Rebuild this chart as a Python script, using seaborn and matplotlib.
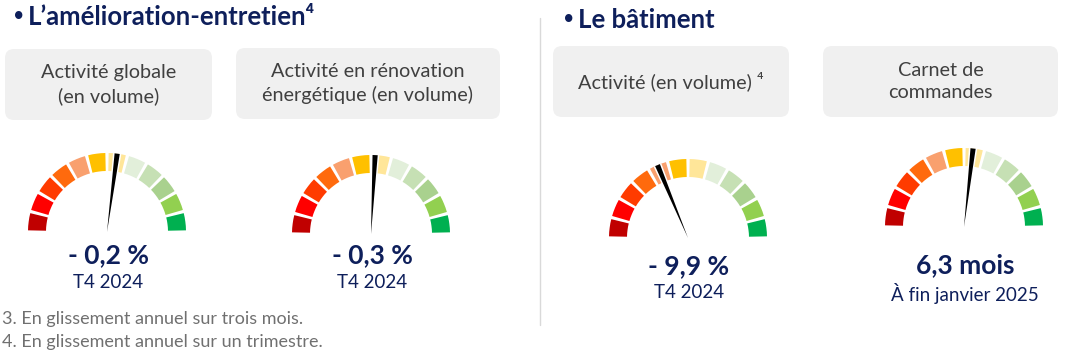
import matplotlib
matplotlib.use("Agg")
import numpy as np
import matplotlib.pyplot as plt
import seaborn as sns
from matplotlib.patches import Wedge, FancyBboxPatch, Polygon

# Données du graphique
section_titles = ["L’amélioration-entretien⁴", "Le bâtiment"]
box_labels = ["Activité globale\n(en volume)",
              "Activité en rénovation\nénergétique (en volume)",
              "Activité (en volume) ⁴",
              "Carnet de\ncommandes"]
gauge_values = ["- 0,2 %", "- 0,3 %", "- 9,9 %", "6,3 mois"]
gauge_periods = ["T4 2024", "T4 2024", "T4 2024", "À fin janvier 2025"]
needle_angles = [82.6, 87.0, 112.7, 83.4]   # degrés, 0 = droite, 180 = gauche
segment_colors = ["#C00000", "#FF0000", "#FF3B00", "#FF6A0D", "#F9A06E", "#FFC000",
                  "#FFE699", "#E2EFDA", "#C6E0B4", "#A9D18E", "#92D050", "#00B050"]
footnotes = ["3. En glissement annuel sur trois mois.",
             "4. En glissement annuel sur un trimestre."]

# mise en page (pixels)
boxes = [(5, 49, 207, 71), (236, 48, 264, 71), (553, 46, 236, 71), (823, 46, 235, 71)]
centers = [(107, 232), (371, 234), (688, 238), (964, 227)]
value_y = [(255, 282), (255, 282), (266, 292), (265, 293)]
title_pos = [(12, 28, 17), (562, 578, 20)]

sns.set_theme(style="white")
plt.rcParams['font.family'] = ['Lato', 'DejaVu Sans']

NAVY = "#0E1F5B"
GREY = "#404040"

fig = plt.figure(figsize=(10.92, 3.53), dpi=100)
ax = fig.add_axes([0, 0, 1, 1])
ax.set_xlim(0, 1092)
ax.set_ylim(353, 0)
ax.axis("off")

for t, (bx, tx, ty) in zip(section_titles, title_pos):
    ax.text(bx, ty, "•", fontsize=15, fontweight="bold", color=NAVY, va="center",
            family="DejaVu Sans")
    ax.text(tx, ty, t, fontsize=18.5, fontweight="bold", color=NAVY, va="center")
ax.plot([540, 540], [18, 325], color="#D9D9D9", lw=1)

for (x, y, w, h), lab in zip(boxes, box_labels):
    ax.add_patch(FancyBboxPatch((x + 9, y + 9), w - 18, h - 18,
                                boxstyle="round,pad=9", fc="#F0F0F0", ec="none"))
    ax.text(x + w / 2, y + h / 2, lab, ha="center", va="center", fontsize=14.3,
            color=GREY, linespacing=1.42)

r_out, r_in = 79, 61
gap = 1.2
for (cx, cy), ang, val, per, (vy, py) in zip(centers, needle_angles, gauge_values,
                                             gauge_periods, value_y):
    for i, col in enumerate(segment_colors):
        t2 = 180 - i * 15
        t1 = t2 - 15
        # axe y inversé : angles négatifs pour dessiner vers le haut
        ax.add_patch(Wedge((cx, cy), r_out, -t2 + gap, -t1 - gap, width=r_out - r_in,
                           fc=col, ec="none"))
    a = np.deg2rad(ang)
    ux, uy = np.cos(a), -np.sin(a)
    px, py_ = -uy, ux
    L = 79
    tip = (cx + ux * L, cy + uy * L)
    for half, col in [(4.2, "white"), (2.6, "black")]:
        base = 0.0 if col == "black" else 0.8
        pts = [(cx + px * base, cy + py_ * base), (tip[0] + px * half, tip[1] + py_ * half),
               (tip[0] - px * half, tip[1] - py_ * half), (cx - px * base, cy - py_ * base)]
        ax.add_patch(Polygon(pts, closed=True, fc=col, ec="none"))
    ax.text(cx + 1, vy, val, ha="center", va="center", fontsize=19, fontweight="bold", color=NAVY)
    ax.text(cx + 1, py, per, ha="center", va="center", fontsize=13.5, color=NAVY)

ax.text(2, 319, footnotes[0], fontsize=13, color="#707070", va="center")
ax.text(2, 342, footnotes[1], fontsize=13, color="#707070", va="center")

fig.savefig("out.png", dpi=100)
